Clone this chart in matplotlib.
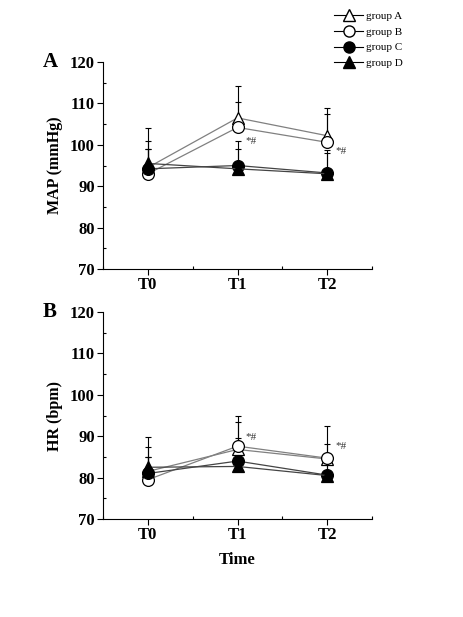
import matplotlib
matplotlib.use("Agg")
import matplotlib.pyplot as plt
from matplotlib.ticker import MultipleLocator
from matplotlib.lines import Line2D

times = ["T0", "T1", "T2"]
groups = ["group A", "group B", "group C", "group D"]

map_A = [94.5, 106.5, 102.2]
map_B = [93.0, 104.2, 100.6]
map_C = [94.2, 95.0, 93.2]
map_D = [95.5, 94.2, 93.0]
map_sd_A = [6.5, 7.8, 6.7]
map_sd_B = [6.0, 6.2, 6.9]
map_sd_C = [9.8, 6.0, 5.6]
map_sd_D = [3.5, 4.8, 5.0]

hr_A = [81.5, 86.8, 84.5]
hr_B = [79.5, 87.6, 84.7]
hr_C = [81.0, 84.0, 80.6]
hr_D = [82.5, 82.7, 80.5]
hr_sd_A = [5.9, 6.6, 7.9]
hr_sd_B = [5.6, 7.2, 3.3]
hr_sd_C = [8.7, 5.5, 4.4]
hr_sd_D = [2.5, 5.3, 4.0]

plt.rcParams['font.family'] = ['Liberation Serif', 'DejaVu Serif']

fig = plt.figure(figsize=(4.63, 6.17), dpi=100)
ax1 = fig.add_axes([0.2225, 0.564, 0.581, 0.3355])
ax2 = fig.add_axes([0.2225, 0.1588, 0.581, 0.3355])

styles = [
    dict(marker='^', mfc='white', mec='black', color='#808080'),
    dict(marker='o', mfc='white', mec='black', color='#808080'),
    dict(marker='o', mfc='black', mec='black', color='#444444'),
    dict(marker='^', mfc='black', mec='black', color='#444444'),
]

x = list(range(len(times)))

def draw(ax, means, sds, ylabel, letter, sig):
    for m, s, st in zip(means, sds, styles):
        ax.errorbar(x, m, yerr=[[0]*len(s), s], fmt='none', ecolor='black',
                    elinewidth=0.8, capsize=2.5, capthick=0.8, zorder=2)
    for m, st, g in zip(means, styles, groups):
        ax.plot(x, m, color=st['color'], lw=0.9, marker=st['marker'], ms=8.5,
                mfc=st['mfc'], mec=st['mec'], mew=0.9, zorder=3, label=g)
    ax.set_xlim(-0.5, 2.5)
    ax.set_ylim(70, 120)
    ax.set_xticks(x)
    ax.set_xticklabels(times)
    ax.yaxis.set_major_locator(MultipleLocator(10))
    ax.yaxis.set_minor_locator(MultipleLocator(5))
    ax.xaxis.set_minor_locator(MultipleLocator(0.5))
    for sp in ['top', 'right']:
        ax.spines[sp].set_visible(False)
    ax.tick_params(which='major', direction='out', length=4, width=0.8,
                   labelsize=12, pad=2)
    ax.tick_params(which='minor', direction='in', length=2.5, width=0.8)
    for lab in ax.get_xticklabels() + ax.get_yticklabels():
        lab.set_fontweight('bold')
    ax.set_ylabel(ylabel, fontsize=11.5, fontweight='bold', labelpad=5)
    ax.text(-0.225, 1.0, letter, transform=ax.transAxes, fontsize=15,
            fontweight='bold', va='center', ha='left')
    for (xi, yi) in sig:
        ax.text(xi + 0.09, yi, '*#', fontsize=8, va='center', ha='left',
                color='#333333')

draw(ax1, [map_A, map_B, map_C, map_D], [map_sd_A, map_sd_B, map_sd_C, map_sd_D],
     'MAP (mmHg)', 'A', [(1, 100.8), (2, 98.4)])
draw(ax2, [hr_A, hr_B, hr_C, hr_D], [hr_sd_A, hr_sd_B, hr_sd_C, hr_sd_D],
     'HR (bpm)', 'B', [(1, 89.7), (2, 87.4)])
ax2.set_xlabel('Time', fontsize=12, fontweight='bold', labelpad=6)

handles = [Line2D([], [], color='black', lw=0.8, marker=st['marker'], ms=8,
                  mfc=st['mfc'], mec='black') for st in styles]
fig.legend(handles, groups, loc='upper left', bbox_to_anchor=(0.705, 0.995),
           frameon=False, fontsize=8, handlelength=2.6, handletextpad=0.3,
           labelspacing=0.55, borderpad=0.2)

fig.savefig('out.png', dpi=100)
